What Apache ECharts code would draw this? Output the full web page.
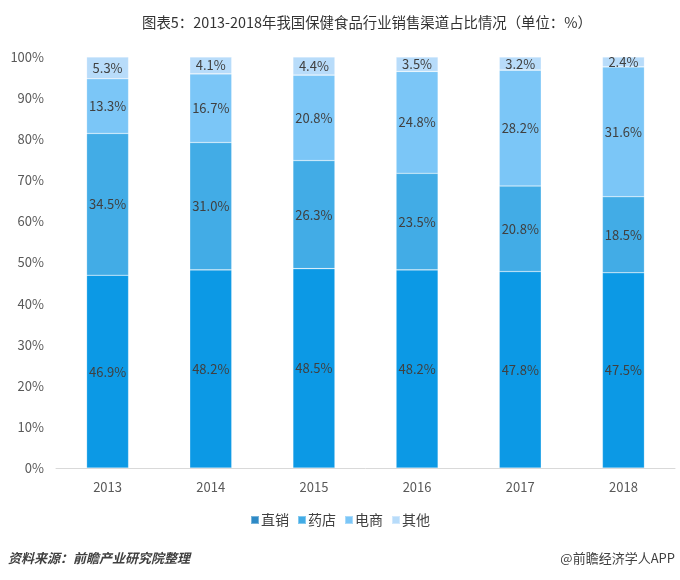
<!DOCTYPE html>
<html><head><meta charset="utf-8">
<script src="https://cdn.jsdelivr.net/npm/echarts@6/dist/echarts.min.js"></script>
<style>html,body{margin:0;padding:0;background:#fff}#c{width:680px;height:580px}</style>
</head><body><div id="c"></div>
<script>
const categories = ['2013','2014','2015','2016','2017','2018'];
const directSales = [46.9, 48.2, 48.5, 48.2, 47.8, 47.5];
const pharmacy = [34.5, 31.0, 26.3, 23.5, 20.8, 18.5];
const ecommerce = [13.3, 16.7, 20.8, 24.8, 28.2, 31.6];
const others = [5.3, 4.1, 4.4, 3.5, 3.2, 2.4];
const seriesNames = ['直销','药店','电商','其他'];
const yTicks = ['0%','10%','20%','30%','40%','50%','60%','70%','80%','90%','100%'];

const font = '"Microsoft YaHei","Noto Sans CJK SC",sans-serif';
const colors = ['#0C99E5','#42ACE6','#7BC6F7','#B8DCFA'];
const data = [directSales, pharmacy, ecommerce, others];

const chart = echarts.init(document.getElementById('c'));
chart.setOption({
  animation: false,
  textStyle: {fontFamily: font},
  title: {
    text: '图表5：2013-2018年我国保健食品行业销售渠道占比情况（单位：%）',
    left: 137, top: 10,
    textStyle: {fontSize: 14.4, fontWeight: 'normal', color: '#333', fontFamily: font}
  },
  legend: {
    data: seriesNames.map((n,i)=>({name:n, itemStyle:{color: i===0?'#2E8AC6':colors[i]}})),
    bottom: 48, left: 'center',
    icon: 'rect', itemWidth: 8, itemHeight: 8, itemGap: 8,
    textStyle: {fontSize: 14, color: '#404040', fontFamily: font, padding:[0,0,0,-3]}
  },
  grid: {left: 56, right: 5, top: 57, bottom: 112},
  xAxis: {
    type: 'category', data: categories,
    axisLine: {lineStyle: {color: '#D9D9D9'}},
    axisTick: {show: false},
    axisLabel: {color: '#595959', fontSize: 13, margin: 13}
  },
  yAxis: {
    type: 'value', min: 0, max: 100, interval: 10,
    axisLine: {show: false}, axisTick: {show: false},
    splitLine: {show: false},
    axisLabel: {color: '#595959', fontSize: 13, margin: 12,
      formatter: v => yTicks[Math.round(v/10)]}
  },
  series: seriesNames.map((n,i)=>({
    name: n, type: 'bar', stack: 'total', barWidth: 42,
    data: data[i],
    itemStyle: {color: colors[i], borderColor: 'rgba(255,255,255,0.35)', borderWidth: 0.6},
    label: {show: true, position: 'inside', formatter: p => p.value.toFixed(1)+'%',
      color: '#404040', fontSize: 13, fontFamily: font}
  })),
  graphic: [
    {type:'text', left: 8, top: 552, style:{text:'资料来源：前瞻产业研究院整理', fontSize: 13, fontStyle:'italic', fontWeight:'bold', fill:'#404040', fontFamily: font}},
    {type:'text', right: 5, top: 552, style:{text:'@前瞻经济学人APP', fontSize: 13, fill:'#404040', fontFamily: font}}
  ]
});
</script></body></html>
